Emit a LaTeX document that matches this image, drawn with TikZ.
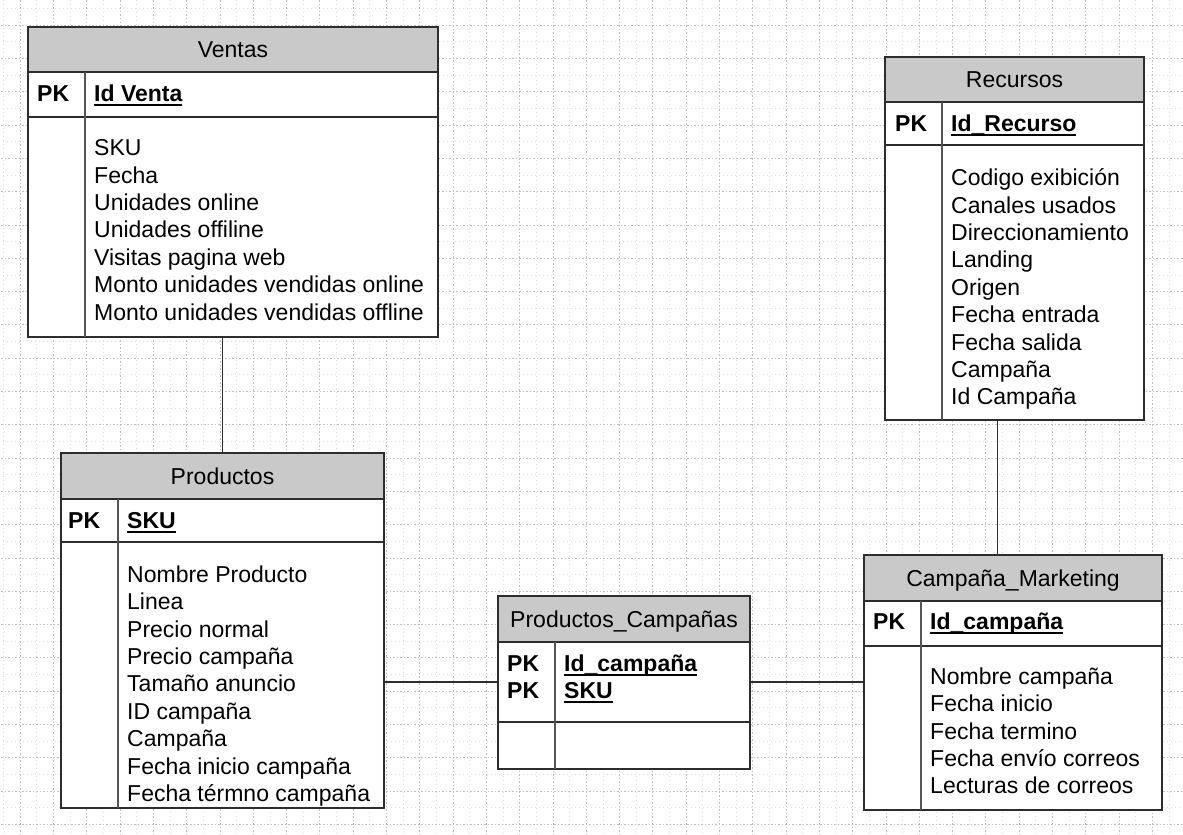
\documentclass[tikz,border=0pt]{standalone}
\usepackage{fontspec}
\setmainfont{Liberation Sans}
\usepackage{tikz}
\usetikzlibrary{positioning, calc}
\definecolor{hdrgray}{RGB}{201,201,201}
\definecolor{linedark}{RGB}{45,45,45}
\definecolor{divgray}{RGB}{85,85,85}
\definecolor{gridgray}{RGB}{190,190,190}
\newcommand{\keyul}[1]{\setbox0\hbox{#1}\rlap{\rule[-4.5pt]{\wd0}{1.8pt}}\box0}

\begin{document}
\begin{tikzpicture}[
    x=1pt, y=-1pt,
    every node/.style={font=\fontsize{23}{27.4}\selectfont},
    tblhead/.style={draw=linedark, line width=2pt, fill=hdrgray, inner sep=0pt, outer sep=0pt, minimum height=46pt, text height=16.5pt, text depth=0pt},
    tblrow/.style={draw=linedark, line width=2pt, fill=white, inner sep=0pt, outer sep=0pt},
    divline/.style={divgray, line width=2.6pt},
    pklabel/.style={anchor=base west, inner sep=0pt, font=\fontsize{23}{27.4}\selectfont\bfseries},
    attrs/.style={anchor=north west, inner sep=0pt, align=left},
    rel/.style={linedark, line width=1.3pt},
    gridln/.style={gridgray, line width=0.6pt, dash pattern=on 1.5pt off 2pt},
    finegrid/.style={gridgray!50, line width=0.5pt, dash pattern=on 0.8pt off 3.2pt},
]
    \useasboundingbox (0,0) rectangle (1183,835);
    \begin{scope}
        \clip (0,0) rectangle (1183,835);
        \fill[white] (0,0) rectangle (1183,835);
        \draw[finegrid, xshift=3.35pt, yshift=-8.35pt] (-40,880) grid[step=33.3pt] (1220,-40);
        \draw[gridln, xshift=20pt, yshift=-25pt] (-40,880) grid[step=33.3pt] (1220,-40);
    \end{scope}

    % Ventas
    \node[tblhead, minimum width=410pt, minimum height=45pt] (ventas) at (233,49.5) {Ventas};
    \node[tblrow, minimum width=410pt, minimum height=45pt, below=0pt of ventas] (ventas-key) {};
    \node[tblrow, minimum width=410pt, minimum height=220pt, below=0pt of ventas-key] (ventas-body) {};
    \draw[divline] ([xshift=57pt]ventas-key.north west) -- ([xshift=57pt]ventas-body.south west);
    \node[pklabel] (ventas-pk) at (37,101) {PK};
    \node[pklabel] (ventas-id) at (94,101) {\keyul{Id Venta}};
    \node[attrs] (ventas-attr) at (94,139.5) {SKU\\Fecha\\Unidades online\\Unidades offiline\\Visitas pagina web\\Monto unidades vendidas online\\Monto unidades vendidas offline};

    % Recursos
    \node[tblhead, minimum width=259pt, minimum height=45pt] (recursos) at (1014.5,79.5) {Recursos};
    \node[tblrow, minimum width=259pt, minimum height=43pt, below=0pt of recursos] (recursos-key) {};
    \node[tblrow, minimum width=259pt, minimum height=275pt, below=0pt of recursos-key] (recursos-body) {};
    \draw[divline] ([xshift=57pt]recursos-key.north west) -- ([xshift=57pt]recursos-body.south west);
    \node[pklabel] (recursos-pk) at (895,131) {PK};
    \node[pklabel] (recursos-id) at (951,131) {\keyul{Id\_Recurso}};
    \node[attrs] (recursos-attr) at (951,168.5) {Codigo exibición\\Canales usados\\Direccionamiento\\Landing\\Origen\\Fecha entrada\\Fecha salida\\Campaña\\Id Campaña};

    % Productos
    \node[tblhead, minimum width=323pt] (productos) at (222.5,476) {Productos};
    \node[tblrow, minimum width=323pt, minimum height=43pt, below=0pt of productos] (productos-key) {};
    \node[tblrow, minimum width=323pt, minimum height=266pt, below=0pt of productos-key] (productos-body) {};
    \draw[divline] ([xshift=57pt]productos-key.north west) -- ([xshift=57pt]productos-body.south west);
    \node[pklabel] (productos-pk) at (68,528) {PK};
    \node[pklabel] (productos-id) at (127,528) {\keyul{SKU}};
    \node[attrs] (productos-attr) at (127,565.5) {Nombre Producto\\Linea\\Precio normal\\Precio campaña\\Tamaño anuncio\\ID campaña\\Campaña\\Fecha inicio campaña\\Fecha térmno campaña};

    % Productos_Campañas
    \node[tblhead, minimum width=252pt] (prodcamp) at (624,619) {Productos\_Campañas};
    \node[tblrow, minimum width=252pt, minimum height=80pt, below=0pt of prodcamp] (prodcamp-key) {};
    \node[tblrow, minimum width=252pt, minimum height=47pt, below=0pt of prodcamp-key] (prodcamp-body) {};
    \draw[divline] ([xshift=57pt]prodcamp-key.north west) -- ([xshift=57pt]prodcamp-body.south west);
    \node[pklabel] (prodcamp-pk1) at (507,671) {PK};
    \node[pklabel] (prodcamp-pk2) at (507,698) {PK};
    \node[pklabel] (prodcamp-id1) at (564,671) {\keyul{Id\_campaña}};
    \node[pklabel] (prodcamp-id2) at (564,698) {\keyul{SKU}};

    % Campaña_Marketing
    \node[tblhead, minimum width=298pt] (campana) at (1013,578) {Campaña\_Marketing};
    \node[tblrow, minimum width=298pt, minimum height=45pt, below=0pt of campana] (campana-key) {};
    \node[tblrow, minimum width=298pt, minimum height=164pt, below=0pt of campana-key] (campana-body) {};
    \draw[divline] ([xshift=57pt]campana-key.north west) -- ([xshift=57pt]campana-body.south west);
    \node[pklabel] (campana-pk) at (873,629) {PK};
    \node[pklabel] (campana-id) at (930,629) {\keyul{Id\_campaña}};
    \node[attrs] (campana-attr) at (930,667.5) {Nombre campaña\\Fecha inicio\\Fecha termino\\Fecha envío correos\\Lecturas de correos};

    \draw[rel] (productos.north) -- (productos.north |- ventas-body.south);
    \draw[rel] ([xshift=-17pt]recursos-body.south) -- ([xshift=-17pt]recursos-body.south |- campana.north);
    \draw[rel] (prodcamp-key.west) -- (prodcamp-key.west -| productos-body.east);
    \draw[rel] (prodcamp-key.east) -- (prodcamp-key.east -| campana-body.west);
\end{tikzpicture}
\end{document}
